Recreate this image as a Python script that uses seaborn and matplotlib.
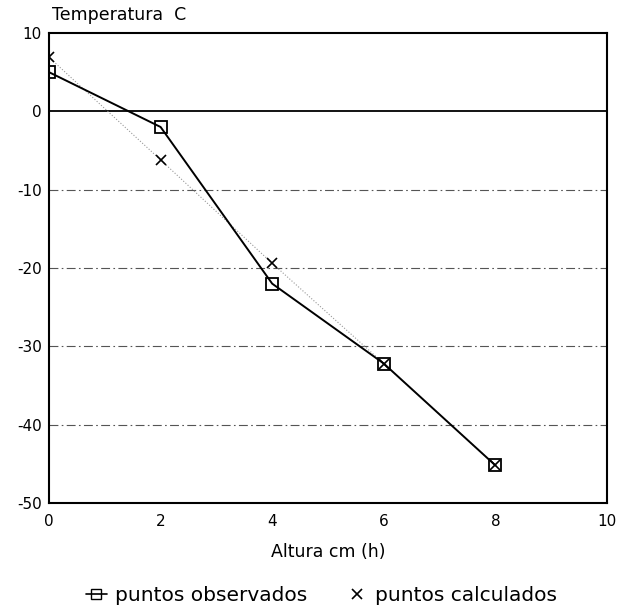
import matplotlib
matplotlib.use("Agg")
import matplotlib.pyplot as plt
import seaborn as sns
import pandas as pd
from matplotlib.lines import Line2D

altura = [0, 2, 4, 6, 8]
observados = [5, -2, -22, -32.2, -45.2]
calculados = [6.9, -6.2, -19.4, -32.2, -45.2]
yticks = [10, 0, -10, -20, -30, -40, -50]
xticks = [0, 2, 4, 6, 8, 10]

sns.set_theme(style="white")
plt.rcParams['font.family'] = ['DejaVu Sans']
plt.rcParams['text.color'] = 'black'
plt.rcParams['axes.labelcolor'] = 'black'
plt.rcParams['xtick.color'] = 'black'
plt.rcParams['ytick.color'] = 'black'

fig = plt.figure(figsize=(6.19, 6.10), dpi=100)
ax = fig.add_axes([49 / 619, 1 - 503 / 610, 558 / 619, 470 / 610])

df_obs = pd.DataFrame({"h": altura, "T": observados})
df_cal = pd.DataFrame({"h": altura, "T": calculados})

for y in [-10, -20, -30, -40]:
    ax.axhline(y, color="#555555", lw=0.8, ls=(0, (8, 3, 1.5, 3)), zorder=1)
ax.axhline(0, color="black", lw=1.3, zorder=1)

sns.lineplot(data=df_cal, x="h", y="T", ax=ax, color="#999999", lw=0.8,
             ls=":", marker="x", markersize=7.5, mew=1.2, mec="black", zorder=2)
sns.lineplot(data=df_obs, x="h", y="T", ax=ax, color="black", lw=1.4,
             marker="s", markersize=8, mfc="none", mec="black", mew=1.3, zorder=3)

ax.set_xlim(0, 10)
ax.set_ylim(-50, 10)
ax.set_xticks(xticks)
ax.set_yticks(yticks)
ax.set_xticklabels([str(v) for v in xticks], fontsize=11)
ax.set_yticklabels([str(v) for v in yticks], fontsize=11)
ax.tick_params(axis="x", direction="in", length=5, width=1, pad=8, color="black",
               labelcolor="black")
ax.tick_params(axis="y", direction="in", length=0, pad=5, labelcolor="black")
for s in ax.spines.values():
    s.set_color("black")
    s.set_linewidth(1.5)

ax.set_xlabel("Altura cm (h)", fontsize=12.5, labelpad=10, color="black")
ax.set_ylabel("")
ax.text(0.005, 1.02, "Temperatura  C", transform=ax.transAxes, fontsize=12.5,
        ha="left", va="bottom", color="black")

handles = [
    Line2D([], [], color="black", lw=1.2, marker="s", mfc="none", mec="black", markersize=7),
    Line2D([], [], color="none", marker="x", mec="black", markersize=7, mew=1.2),
]
leg = fig.legend(handles, ["puntos observados", "puntos calculados"], loc="lower center",
                 bbox_to_anchor=(0.52, -0.022), ncol=2, frameon=False, fontsize=14.5,
                 handlelength=1.0, columnspacing=2.0, handletextpad=0.4)
for t in leg.get_texts():
    t.set_color("black")

fig.savefig("out.png", dpi=100)
